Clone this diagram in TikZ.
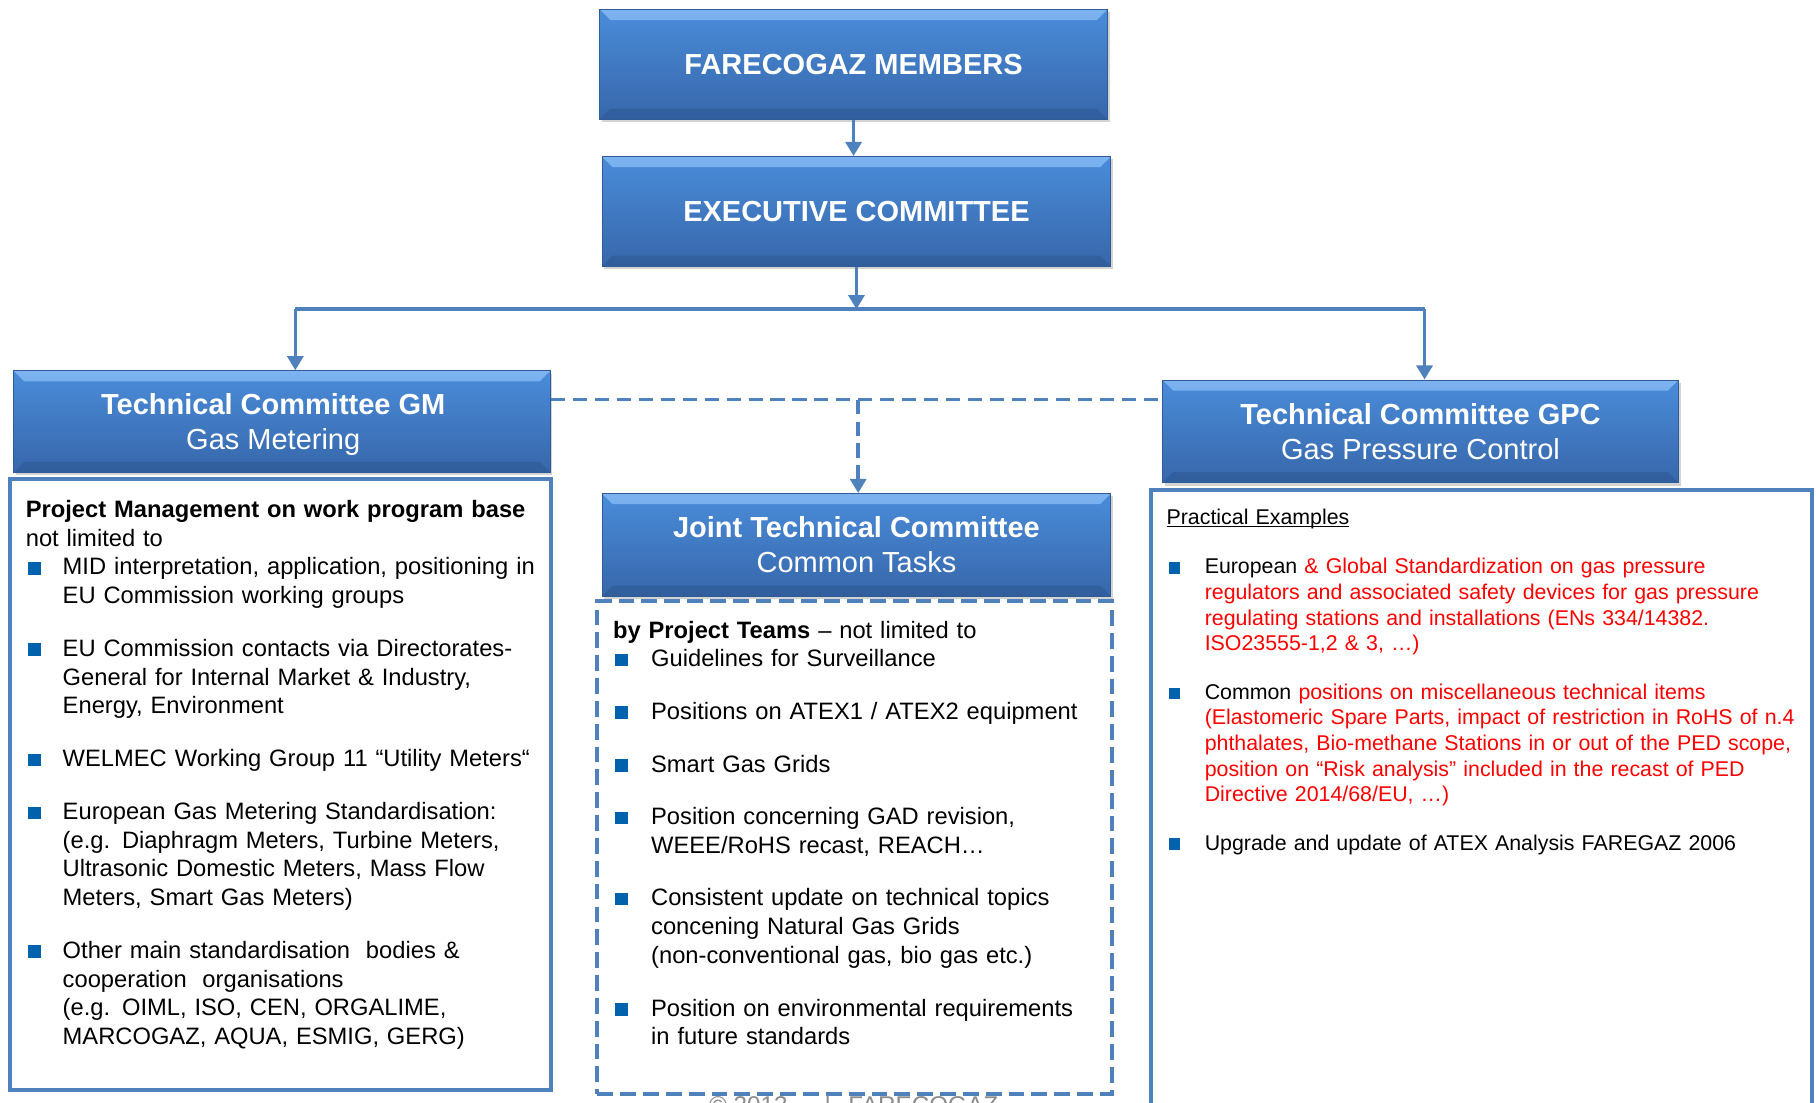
\documentclass[tikz,border=0pt]{standalone}
\usepackage{fontspec}
\setmainfont{Liberation Sans}
\usetikzlibrary{positioning, arrows.meta, shadows}
\definecolor{FareBlue}{HTML}{4F81BD}
\definecolor{HeadTop}{HTML}{4A8CDA}
\definecolor{HeadBot}{HTML}{3767AA}
\definecolor{HeadHi}{HTML}{7DB3F0}
\definecolor{HeadLo}{HTML}{2C5590}
\definecolor{HeadEdge}{HTML}{2F5B96}
\definecolor{BulletBlue}{HTML}{0062AC}
\definecolor{TxtRed}{HTML}{FF0000}
\definecolor{FootGray}{HTML}{8C8C8C}
\newcommand{\pxu}{0.6566pt}
\newlength{\bind}
\newsavebox{\ulbox}
\newcommand{\ulin}[1]{\sbox{\ulbox}{#1}\rlap{\rule[-1.8pt]{\wd\ulbox}{0.6pt}}\usebox{\ulbox}}
\newcommand{\bsq}{\hspace{1.3pt}\textcolor{BulletBlue}{\rule[0.02em]{0.53em}{0.53em}}}
\newcommand{\bitem}[1]{\par\hangindent=\bind\hangafter=1\makebox[\bind][l]{\bsq}{\let\\\newline #1}\par}

\begin{document}
\begin{tikzpicture}[x=0.02316cm, y=-0.02316cm,
    headbox/.style={rectangle, draw=HeadEdge, line width=0.6pt, inner sep=0pt,
        top color=HeadTop, bottom color=HeadBot, text=white, align=center,
        font=\fontsize{16.5}{19.7}\selectfont,
        drop shadow={shadow xshift=1.2pt, shadow yshift=-1.6pt, opacity=0.35},
        path picture={
            \shade[top color=HeadHi, bottom color=HeadTop] (path picture bounding box.north west) -- ++(6pt,-6pt)
                -- ([shift={(-6pt,-6pt)}]path picture bounding box.north east) -- (path picture bounding box.north east) -- cycle;
            \fill[HeadLo, opacity=0.5] (path picture bounding box.south west) -- ++(6pt,6pt)
                -- ([shift={(-6pt,6pt)}]path picture bounding box.south east) -- (path picture bounding box.south east) -- cycle;
        }},
    frame/.style={rectangle, draw=FareBlue, line width=2.3pt, fill=white, inner sep=0pt},
    dframe/.style={frame, dash pattern=on 9pt off 4pt},
    link/.style={draw=FareBlue, line width=2pt},
    dlink/.style={link, dash pattern=on 8pt off 4.5pt},
    arrowed/.style={-{Triangle[width=9pt,length=8pt]}},
    bodytext/.style={inner sep=0pt, align=left, anchor=base west, text=black}]

    \useasboundingbox (0,0) rectangle (1568,952);

    % Body frames
    \node[frame, minimum width=469*\pxu, minimum height=529*\pxu] (gmbody) at (242.5,677.5) {};
    \node[dframe, minimum width=446*\pxu, minimum height=427*\pxu] (jointbody) at (738,731.5) {};
    \node[frame, minimum width=573*\pxu, minimum height=558*\pxu] (gpcbody) at (1279.5,701) {};

    % Header boxes
    \node[headbox, minimum width=440*\pxu, minimum height=95*\pxu] (members) at (737,55.5) {\textbf{FARECOGAZ MEMBERS}};
    \node[headbox, minimum width=441*\pxu, minimum height=95*\pxu] (exec) at (739.5,182.5) {\textbf{EXECUTIVE COMMITTEE}};
    \node[headbox, minimum width=465*\pxu, minimum height=88*\pxu] (gm) at (243.5,364) {\rule{0pt}{15pt}\textbf{Technical Committee GM}\hspace*{10pt}\\Gas Metering\hspace*{10pt}};
    \node[headbox, minimum width=447*\pxu, minimum height=89*\pxu] (gpc) at (1226.5,372.5) {\textbf{Technical Committee GPC}\\Gas Pressure Control};
    \node[headbox, minimum width=441*\pxu, minimum height=89*\pxu] (joint) at (739.5,470.5) {\textbf{Joint Technical Committee}\\Common Tasks};

    % Connectors
    \coordinate (busL) at (255,267);
    \coordinate (busR) at (1230,267);
    \coordinate (jt) at (741,345);
    \draw[link, arrowed] (members.south) -- (members.south |- exec.north);
    \draw[link, arrowed] (exec.south) -- (exec.south |- busL);
    \draw[link] (busL) -- (busR);
    \draw[link, arrowed] (busL) -- (busL |- gm.north);
    \draw[link, arrowed] (busR) -- (busR |- gpc.north);
    \draw[dlink] (jt -| gm.east) -- (jt -| gpc.west);
    \draw[dlink, arrowed] (jt) -- (jt |- joint.north);

    % Gas Metering tasks
    \node[bodytext, text width=455*\pxu, font=\fontsize{13.5}{16.3}\selectfont] (gmtext) at (22,447) {%
        \setlength{\bind}{21pt}%
        \textbf{Project Management on work program base}\\
        not limited to
        \bitem{MID interpretation, application, positioning in\\EU Commission working groups}
        \vspace{13.8pt}
        \bitem{EU Commission contacts via Directorates-\\General for Internal Market \& Industry,\\Energy, Environment}
        \vspace{13.8pt}
        \bitem{WELMEC Working Group 11 “Utility Meters“}
        \vspace{13.8pt}
        \bitem{European Gas Metering Standardisation:\\(e.g. Diaphragm Meters, Turbine Meters,\\Ultrasonic Domestic Meters, Mass Flow\\Meters, Smart Gas Meters)}
        \vspace{13.8pt}
        \bitem{Other main standardisation\ \ bodies \&\\cooperation\ \ organisations\\(e.g. OIML, ISO, CEN, ORGALIME,\\MARCOGAZ, AQUA, ESMIG, GERG)}};

    % Common tasks
    \node[bodytext, text width=425*\pxu, font=\fontsize{13.5}{16.4}\selectfont] (jointtext) at (529,551) {%
        \setlength{\bind}{21.7pt}%
        \textbf{by Project Teams} – not limited to
        \bitem{Guidelines for Surveillance}
        \vspace{13.5pt}
        \bitem{Positions on ATEX1 / ATEX2 equipment}
        \vspace{13.5pt}
        \bitem{Smart Gas Grids}
        \vspace{13.5pt}
        \bitem{Position concerning GAD revision,\\WEEE/RoHS recast, REACH…}
        \vspace{13.5pt}
        \bitem{Consistent update on technical topics\\concening Natural Gas Grids\\(non-conventional gas, bio gas etc.)}
        \vspace{13.5pt}
        \bitem{Position on environmental requirements\\in future standards}};

    % Gas Pressure Control examples
    \node[bodytext, text width=590*\pxu, font=\fontsize{12.15}{14.6}\selectfont] (gpctext) at (1007,452.5) {%
        \setlength{\bind}{21.7pt}%
        \ulin{Practical Examples}\par
        \vspace{13.8pt}
        \bitem{European \textcolor{TxtRed}{\& Global Standardization on gas pressure\\regulators and associated safety devices for gas pressure\\regulating stations and installations (ENs 334/14382.\\ISO23555-1,2 \& 3, …)}}
        \vspace{12.9pt}
        \bitem{Common \textcolor{TxtRed}{positions on miscellaneous technical items\\(Elastomeric Spare Parts, impact of restriction in RoHS\ of~n.4\\phthalates, Bio-methane Stations in or out of the PED scope,\\position on “Risk analysis” included in the recast of PED\\Directive 2014/68/EU, …)}}
        \vspace{12.9pt}
        \bitem{Upgrade and update of ATEX Analysis FAREGAZ 2006}};

    % Footer (cut by the page edge)
    \node[inner sep=0pt, anchor=base west, text=FootGray, font=\fontsize{13.8}{16}\selectfont] (foot) at (612,961) {© 2013\hspace{21pt}|\hspace{10pt}FARECOGAZ};
\end{tikzpicture}
\end{document}
